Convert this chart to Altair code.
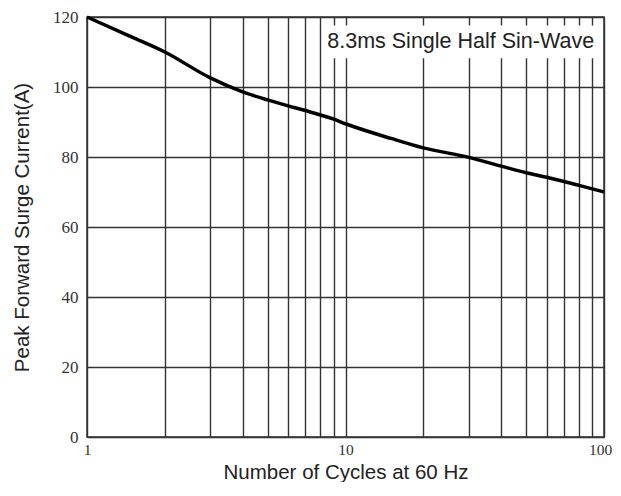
import altair as alt
import pandas as pd

cycles = [1, 1.5, 2, 3, 4, 5, 6, 7, 8, 9, 10, 15, 20, 30, 40, 50, 60, 70, 80, 100]
current = [120, 114.2, 110, 102.6, 98.6, 96.3, 94.6, 93.3, 92.0, 90.8, 89.5, 85.3, 82.6, 79.9, 77.4, 75.5, 74.2, 73.0, 71.9, 70.0]

x_ticks = [1, 2, 3, 4, 5, 6, 7, 8, 9, 10, 20, 30, 40, 50, 60, 70, 80, 90, 100]
y_ticks = [0, 20, 40, 60, 80, 100, 120]

note_text = ["8.3ms Single Half Sin-Wave"]
note_box = {"x": [8.35], "x2": [93.5], "y": [108.2], "y2": [117.6], "tx": [8.5], "ty": [112.8]}

df = pd.DataFrame({"cycles": cycles, "current": current})
box = pd.DataFrame({**note_box, "label": note_text})

xscale = alt.Scale(type="log", domain=[1, 100], nice=False)
yscale = alt.Scale(domain=[0, 120], nice=False)

line = alt.Chart(df).mark_line(color="black", strokeWidth=3.5, interpolate="monotone").encode(
    x=alt.X("cycles:Q", scale=xscale,
            axis=alt.Axis(values=x_ticks, format="d",
                          labelExpr="indexof([1,10,100], datum.value) >= 0 ? datum.label : ''",
                          labelOffset={"condition": {"test": "datum.value == 100", "value": -4}, "value": 0},
                          title="Number of Cycles at 60 Hz")),
    y=alt.Y("current:Q", scale=yscale,
            axis=alt.Axis(values=y_ticks, title="Peak Forward Surge Current(A)")),
)

rect = alt.Chart(box).mark_rect(color="white").encode(
    x=alt.X("x:Q", scale=xscale), x2="x2:Q",
    y=alt.Y("y:Q", scale=yscale), y2="y2:Q",
)

txt = alt.Chart(box).mark_text(align="left", baseline="middle", font="Liberation Sans",
                               fontSize=21.5, color="#222").encode(
    x=alt.X("tx:Q", scale=xscale),
    y=alt.Y("ty:Q", scale=yscale),
    text="label:N",
)

chart = alt.layer(line, rect, txt).properties(
    width=517, height=420,
    autosize=alt.AutoSizeParams(type="none"),
    padding={"left": 79, "top": 9, "right": 9, "bottom": 45},
).configure_axis(
    grid=True, gridColor="#333", gridWidth=1.4, gridOpacity=1,
    domain=False, ticks=False,
    labelFont="Liberation Serif", labelFontSize=17, labelColor="#333",
    titleFont="Liberation Sans", titleFontSize=20.5, titleColor="#222", titleFontWeight="normal",
).configure_axisX(labelPadding=5, labelFontSize=15.5, titleBaseline="alphabetic", titleY=41,
                  labelFlush=False).configure_axisY(
    labelPadding=9, titlePadding=20
).configure_view(stroke="#333", strokeWidth=1.5)

chart.save("out.html", embed_options={"renderer": "svg", "actions": False})
